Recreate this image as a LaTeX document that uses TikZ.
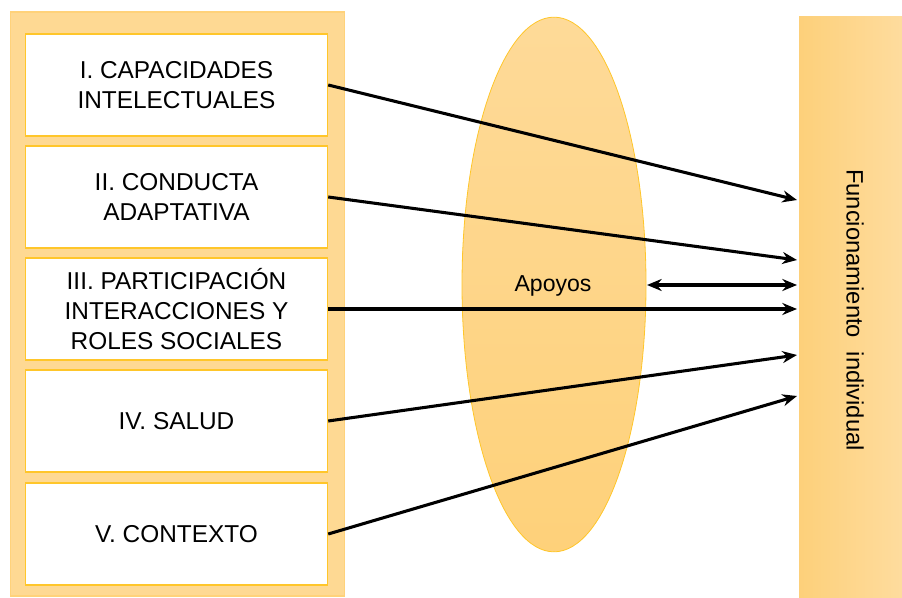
\documentclass[tikz,border=0pt]{standalone}
\usepackage{fontspec}
\setmainfont{Liberation Sans}
\usetikzlibrary{arrows.meta,shapes.geometric}
\definecolor{panel}{HTML}{FED993}
\definecolor{panelborder}{HTML}{FFD27A}
\definecolor{boxborder}{HTML}{FFC62A}
\definecolor{ellA}{HTML}{FEDA98}
\definecolor{ellB}{HTML}{FED17A}
\definecolor{barA}{HTML}{FDD07A}
\definecolor{barB}{HTML}{FEDC9E}
\begin{document}
\begin{tikzpicture}[x=0.75pt,y=-0.75pt,
  itembox/.style={draw=boxborder,line width=1.1pt,fill=white,minimum width=226.5pt,minimum height=76.5pt,inner sep=0pt,align=center,font=\fontsize{18.3}{22.8}\selectfont},
  conn/.style={line width=2.3pt,-{Stealth[length=11pt,width=9pt]}},
  dconn/.style={line width=2.3pt,{Stealth[length=11pt,width=9pt]}-{Stealth[length=11pt,width=9pt]}}]
\useasboundingbox (0,0) rectangle (902,598);
% left panel
\node[draw=panelborder,fill=panel,line width=0.8pt,minimum width=251pt,minimum height=438pt,inner sep=0pt] (panel) at (177.5,304) {};
% boxes
\node[itembox] (b1) at (176.5,85) {I. CAPACIDADES\\INTELECTUALES};
\node[itembox] (b2) at (176.5,197) {II. CONDUCTA\\ADAPTATIVA};
\node[itembox] (b3) at (176.5,309) {III. PARTICIPACIÓN\\INTERACCIONES Y\\ROLES SOCIALES};
\node[itembox] (b4) at (176.5,421) {IV. SALUD};
\node[itembox] (b5) at (176.5,534) {V. CONTEXTO};
% ellipse
\node[ellipse,draw=boxborder,line width=0.6pt,top color=ellA,bottom color=ellB,minimum width=138pt,minimum height=401pt,inner sep=0pt] (ell) at (554,284.5) {};
\node[font=\fontsize{17.3}{20}\selectfont] (apoyos) at (553,286) {Apoyos};
% right bar
\node[left color=barA,right color=barB,minimum width=78pt,minimum height=436pt,inner sep=0pt] (bar) at (851,307) {};
\node[rotate=-90,font=\fontsize{17.8}{20}\selectfont] (func) at (855,310) {Funcionamiento\hspace{0.3em} individual};
% anchor coordinates on the bar
\coordinate (t1) at (797,200);
\coordinate (t2) at (797,260);
\coordinate (t3) at (797,309);
\coordinate (t4) at (797,355);
\coordinate (t5) at (797,396);
\coordinate (td) at (797,285);
\coordinate (sd) at (647,285);
\draw[conn] (b1.east) -- (t1);
\draw[conn] (b2.east) -- (t2);
\draw[conn] (b3.east) -- (t3);
\draw[conn] (b4.east) -- (t4);
\draw[conn] (b5.east) -- (t5);
\draw[dconn] (sd) -- (td);
\end{tikzpicture}
\end{document}
